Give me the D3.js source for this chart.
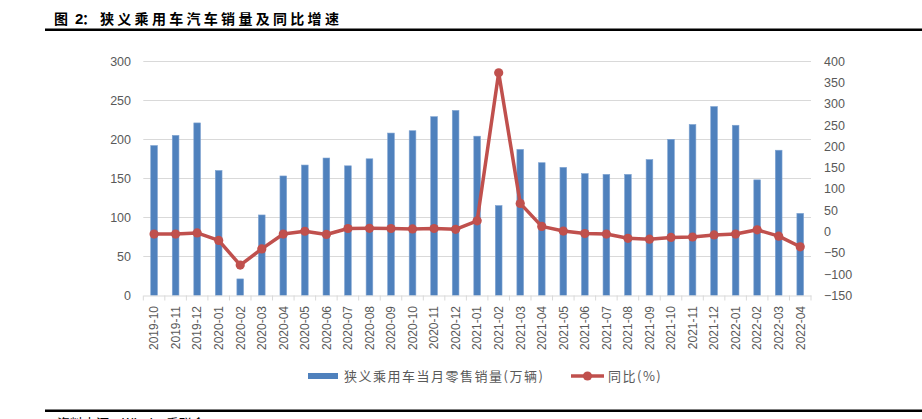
<!DOCTYPE html>
<html><head><meta charset="utf-8">
<script src="https://cdn.jsdelivr.net/npm/d3@7"></script>
<style>
html,body{margin:0;padding:0;background:#fff;}
svg{display:block;}
</style></head>
<body>
<svg id="c" width="922" height="419"></svg>
<script>
const months = ["2019-10","2019-11","2019-12","2020-01","2020-02","2020-03","2020-04","2020-05","2020-06","2020-07","2020-08","2020-09","2020-10","2020-11","2020-12","2021-01","2021-02","2021-03","2021-04","2021-05","2021-06","2021-07","2021-08","2021-09","2021-10","2021-11","2021-12","2022-01","2022-02","2022-03","2022-04"];
const sales = [192,205,221,160,21,103,153,167,176,166,175,208,211,229,237,204,115,187,170,164,156,155,155,174,200,219,242,218,148,186,105];
const yoy = [-6,-6,-3.5,-21,-79,-41,-6,0.5,-7,7,7.5,7,6,7,5,25,373,66,12,1,-5,-6,-16,-18,-14,-13,-8,-6,4,-11,-36];
const leftTicks = [0,50,100,150,200,250,300];
const rightTicks = [-150,-100,-50,0,50,100,150,200,250,300,350,400];
const titleParts = ["图","2","：","狭义乘用车汽车销量及同比增速"];
const legendNames = ["狭义乘用车当月零售销量(万辆)","同比(%)"];
const sourceText = "资料来源：Wind，乘联会";

const svg = d3.select("#c");
const gray = "#595959", grid = "#D9D9D9", blue = "#4F81BD", red = "#C0504D";
const numFont = "'Liberation Sans', Arial, sans-serif";
const cjkFont = "'Noto Sans CJK SC', sans-serif";

const x = d3.scaleBand().domain(months).range([143.3, 811]).paddingInner(0.69).paddingOuter(0.345);
const yL = d3.scaleLinear().domain([0,300]).range([295.3, 61.3]);
const yR = d3.scaleLinear().domain([-150,400]).range([295.3, 61.3]);
const cx = d => x(d) + x.bandwidth()/2;

// title
const t = svg.append("text").attr("y",24)
  .attr("font-family",cjkFont).attr("font-weight","bold").attr("font-size",14).attr("fill","#000");
t.append("tspan").attr("x",54).text(titleParts[0]);
t.append("tspan").attr("x",75).attr("font-family",numFont).attr("font-size",15).text(titleParts[1]);
t.append("tspan").attr("x",82).text(titleParts[2]);
t.append("tspan").attr("x",100).attr("letter-spacing","3.3px").text(titleParts[3]);
svg.append("line").attr("x1",45).attr("x2",922).attr("y1",29.7).attr("y2",29.7).attr("stroke","#000").attr("stroke-width",2.5);

// gridlines
svg.append("g").selectAll("line").data(leftTicks.filter(v=>v>0)).join("line")
  .attr("x1",143.3).attr("x2",811).attr("y1",d=>Math.round(yL(d))+0.5).attr("y2",d=>Math.round(yL(d))+0.5)
  .attr("stroke",grid).attr("stroke-width",1);

// left axis labels
const gl = svg.append("g").attr("transform","translate(131,0)")
  .call(d3.axisLeft(yL).tickValues(leftTicks).tickSize(0).tickPadding(0));
gl.select(".domain").remove();
gl.selectAll("text").attr("font-family",numFont).attr("font-size",12.5).attr("fill",gray);

// right axis labels
const gr = svg.append("g").attr("transform","translate(824,0)")
  .call(d3.axisRight(yR).tickValues(rightTicks).tickSize(0).tickPadding(0));
gr.select(".domain").remove();
gr.selectAll("text").attr("font-family",numFont).attr("font-size",12.5).attr("fill",gray);

// bars
svg.append("g").selectAll("rect").data(months).join("rect")
  .attr("x",d=>x(d)).attr("width",x.bandwidth())
  .attr("y",(d,i)=>yL(sales[i])).attr("height",(d,i)=>yL(0)-yL(sales[i]))
  .attr("fill",blue).attr("stroke","#7FA3D1").attr("stroke-width",0.6);

// x axis
const gx = svg.append("g").attr("transform",`translate(0,${295.5})`)
  .call(d3.axisBottom(x).tickSize(0).tickPadding(0));
gx.select(".domain").attr("stroke",grid);
gx.selectAll("text").remove();
gx.selectAll(".tick line").remove();
const step = x.step();
const bounds = d3.range(months.length+1).map(i => 143.3 + i*step);
svg.append("g").selectAll("line").data(bounds).join("line")
  .attr("x1",d=>d).attr("x2",d=>d).attr("y1",295.5).attr("y2",300.5)
  .attr("stroke",grid).attr("stroke-width",1);
svg.append("g").selectAll("text").data(months).join("text")
  .attr("transform",d=>`translate(${cx(d)+4.3},306) rotate(-90)`)
  .attr("text-anchor","end")
  .attr("font-family",numFont).attr("font-size",12).attr("fill",gray)
  .text(d=>d);

// line
const line = d3.line().x((d,i)=>cx(months[i])).y(d=>yR(d));
svg.append("path").datum(yoy).attr("d",line).attr("fill","none")
  .attr("stroke",red).attr("stroke-width",3.5).attr("stroke-linejoin","round");
svg.append("g").selectAll("circle").data(yoy).join("circle")
  .attr("cx",(d,i)=>cx(months[i])).attr("cy",d=>yR(d)).attr("r",4.6).attr("fill",red);

// legend
svg.append("rect").attr("x",308).attr("y",373).attr("width",30).attr("height",6).attr("fill",blue);
svg.append("text").attr("x",344).attr("y",380.5).attr("font-family",cjkFont).attr("font-size",13)
  .attr("letter-spacing","1.5px").attr("fill",gray).text(legendNames[0]);
svg.append("line").attr("x1",571).attr("x2",604).attr("y1",376).attr("y2",376).attr("stroke",red).attr("stroke-width",3.5);
svg.append("circle").attr("cx",587.5).attr("cy",376).attr("r",4.6).attr("fill",red);
svg.append("text").attr("x",608).attr("y",380.5).attr("font-family",cjkFont).attr("font-size",13)
  .attr("letter-spacing","1.5px").attr("fill",gray).text(legendNames[1]);

// bottom rule and clipped source (cut off at the edge, as in the reference)
svg.append("line").attr("x1",45).attr("x2",922).attr("y1",410.8).attr("y2",410.8).attr("stroke","#000").attr("stroke-width",2.5);
svg.append("text").attr("x",57).attr("y",428).attr("font-family",cjkFont).attr("font-size",13)
  .attr("fill","#000").text(sourceText);
</script>
</body></html>
